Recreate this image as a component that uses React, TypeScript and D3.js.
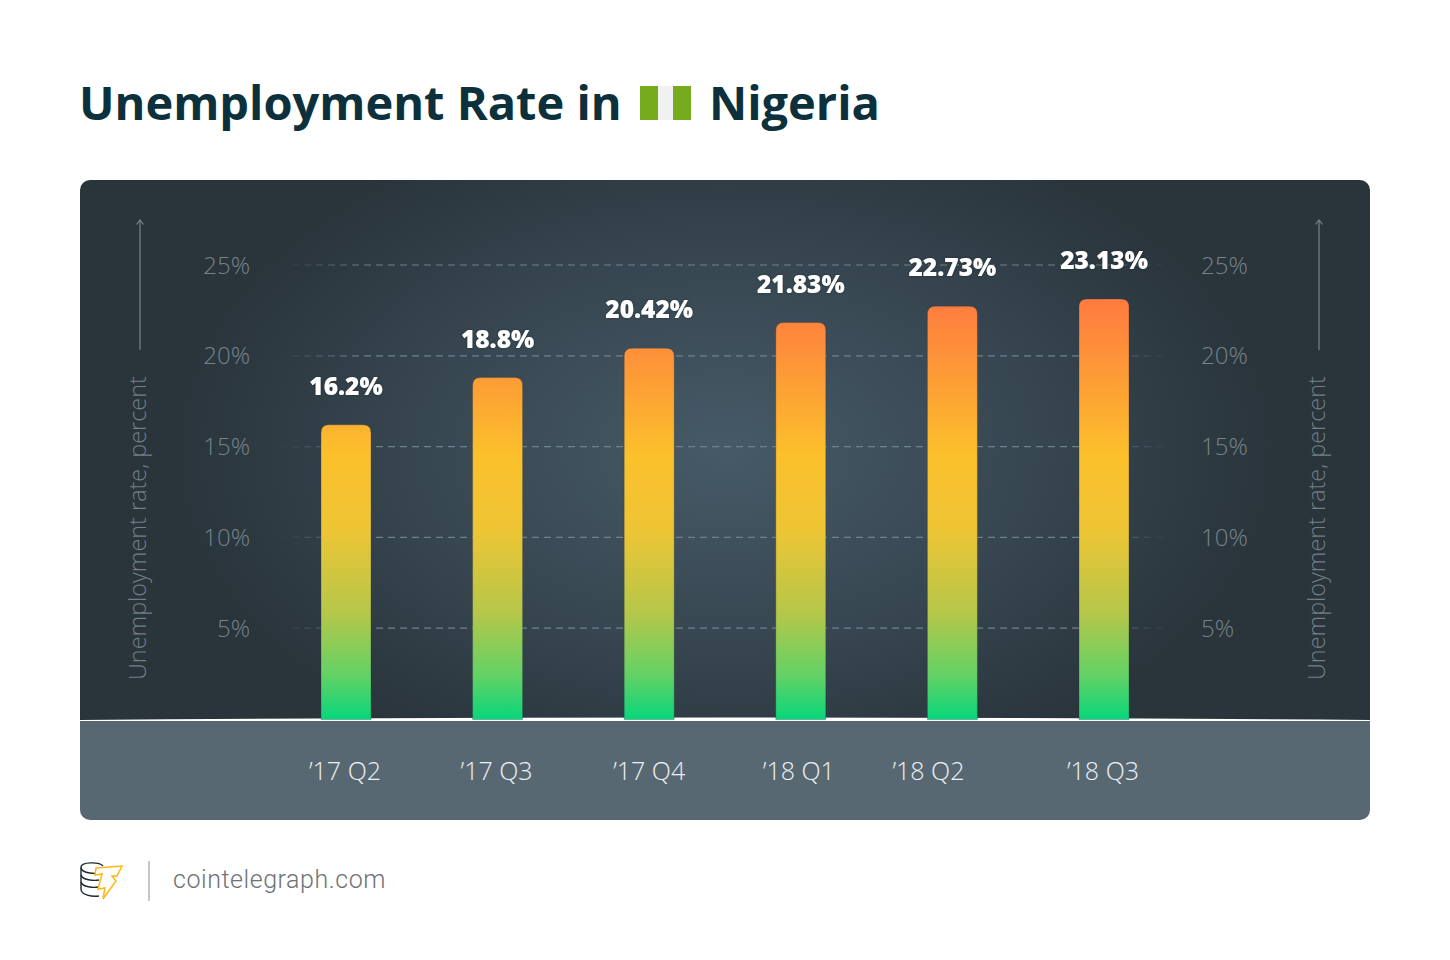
import React from "react";
import * as d3 from "d3";

const quarters = ["’17 Q2", "’17 Q3", "’17 Q4", "’18 Q1", "’18 Q2", "’18 Q3"];
const rates = [16.2, 18.8, 20.42, 21.83, 22.73, 23.13];
const rateLabels = ["16.2%", "18.8%", "20.42%", "21.83%", "22.73%", "23.13%"];
const yTicks = [5, 10, 15, 20, 25];
const quarterLabelShift = [-1, -1, 0, -2, -24, -1];

const x = d3.scalePoint<string>().domain(quarters).range([346, 1104]);
const y = d3.scaleLinear().domain([0, 25]).range([719, 265]);
const BAR_W = 50;
const LIGHT = "'Open Sans', sans-serif";

function topRoundedBar(cx: number, top: number, bottom: number, w: number, r: number) {
  const p = d3.path();
  const l = cx - w / 2, rt = cx + w / 2;
  p.moveTo(l, bottom);
  p.lineTo(l, top + r);
  p.quadraticCurveTo(l, top, l + r, top);
  p.lineTo(rt - r, top);
  p.quadraticCurveTo(rt, top, rt, top + r);
  p.lineTo(rt, bottom);
  p.closePath();
  return p.toString();
}

function AxisTitle({ ax }: { ax: number }) {
  return (
    <g>
      <line x1={ax} x2={ax} y1={350} y2={220} stroke="#77848c" strokeWidth={1.2} />
      <path d={`M${ax - 3.5},224.5 L${ax},220 L${ax + 3.5},224.5`} fill="none" stroke="#77848c" strokeWidth={1.2} />
      <text
        transform={`translate(${ax + 6},680) rotate(-90)`}
        fontFamily={LIGHT}
        fontWeight={300}
        fontSize={23.4}
        fill="#727f87"
      >
        Unemployment rate, percent
      </text>
    </g>
  );
}

export default function App() {
  return (
    <svg
      width={1450}
      height={960}
      viewBox="0 0 1450 960"
      style={{ position: "absolute", left: 0, top: 0, display: "block", background: "#fff" }}
    >
      <defs>
        <radialGradient id="bg" gradientUnits="userSpaceOnUse" cx={725} cy={450} r={560} gradientTransform="translate(725 450) scale(1 0.62) translate(-725 -450)">
          <stop offset="0" stopColor="#465a67" />
          <stop offset="0.45" stopColor="#3a4a55" />
          <stop offset="1" stopColor="#29343b" />
        </radialGradient>
        <linearGradient id="barFill" gradientUnits="userSpaceOnUse" x1={0} x2={0} y1={300} y2={719}>
          <stop offset="0" stopColor="#ff7a40" />
          <stop offset="0.2" stopColor="#fd9f35" />
          <stop offset="0.37" stopColor="#fcc02c" />
          <stop offset="0.55" stopColor="#eec535" />
          <stop offset="0.75" stopColor="#b4c74a" />
          <stop offset="0.9" stopColor="#60d266" />
          <stop offset="1" stopColor="#08d67a" />
        </linearGradient>
        <linearGradient id="gridFade" gradientUnits="userSpaceOnUse" x1={280} x2={1170} y1={0} y2={0}>
          <stop offset="0" stopColor="#6d818d" stopOpacity={0} />
          <stop offset="0.1" stopColor="#6d818d" />
          <stop offset="0.9" stopColor="#6d818d" />
          <stop offset="1" stopColor="#6d818d" stopOpacity={0} />
        </linearGradient>
        <filter id="lblShadow" x="-20%" y="-40%" width="140%" height="180%">
          <feDropShadow dx={0} dy={0} stdDeviation={1.2} floodColor="#1f2a30" floodOpacity={0.8} />
        </filter>
        <clipPath id="card">
          <rect x={80} y={180} width={1290} height={640} rx={10} />
        </clipPath>
      </defs>

      <text x={79} y={120} fontFamily="'Open Sans', sans-serif" fontWeight={700} fontSize={47} fill="#0d303d">
        Unemployment Rate in
      </text>
      <rect x={640} y={86} width={18} height={34} fill="#76ab1d" />
      <rect x={658} y={86} width={15} height={34} fill="#f1f1f1" />
      <rect x={673} y={86} width={18} height={34} fill="#76ab1d" />
      <text x={709} y={120} fontFamily="'Open Sans', sans-serif" fontWeight={700} fontSize={47} fill="#0d303d">
        Nigeria
      </text>

      <g clipPath="url(#card)">
        <rect x={80} y={180} width={1290} height={540} fill="url(#bg)" />
        <rect x={80} y={720} width={1290} height={100} fill="#586873" />
        <path d="M80,720 Q400,717.6 725,717.6 Q1050,717.6 1370,720 L1370,721 L80,721 Z" fill="#ffffff" />
      </g>

      {yTicks.map((t) => (
        <line key={t} x1={280} x2={1170} y1={y(t)} y2={y(t)} stroke="url(#gridFade)" strokeWidth={1.2} strokeDasharray="7 5" />
      ))}

      {yTicks.map((t) => (
        <g key={t} fontFamily={LIGHT} fontWeight={300} fontSize={24} fill="#76838b">
          <text x={250} y={y(t) + 8.5} textAnchor="end">{t}%</text>
          <text x={1201} y={y(t) + 8.5}>{t}%</text>
        </g>
      ))}

      <AxisTitle ax={140} />
      <AxisTitle ax={1319} />

      {quarters.map((q, i) => (
        <path
          key={q}
          d={topRoundedBar(x(q)!, y(rates[i]), 719.5, BAR_W, 8)}
          fill="url(#barFill)"
          stroke="#2c3a43"
          strokeOpacity={0.5}
          strokeWidth={0.6}
        />
      ))}

      {quarters.map((q, i) => (
        <text
          key={q}
          x={x(q)!}
          y={y(rates[i]) - 30}
          textAnchor="middle"
          fontFamily="'Open Sans', sans-serif"
          fontWeight={800}
          fontSize={24.5}
          fill="#ffffff"
          filter="url(#lblShadow)"
        >
          {rateLabels[i]}
        </text>
      ))}

      {quarters.map((q, i) => (
        <text
          key={q}
          x={x(q)! + quarterLabelShift[i]}
          y={780}
          textAnchor="middle"
          fontFamily={LIGHT}
          fontWeight={300}
          fontSize={25}
          fill="#eef1f3"
        >
          {q}
        </text>
      ))}

      <g fill="none" stroke="#1b2b33" strokeWidth={1.4}>
        <path d="M103,866 C100,862 80,861 81,868 L81,889 C81,895 92,897 99,896" />
        <path d="M81,868 C82,873 96,875 102,872" />
        <path d="M81,875 C82,880 94,881 99,880" />
        <path d="M81,882 C82,887 94,888 98,887" />
      </g>
      <path
        d="M96,868 L122,866 L117,876 L112,876 L116,881 L103,899 L105,888 L98,889 L102,874 L95,875 Z"
        fill="#ffffff"
        stroke="#fdb813"
        strokeWidth={1.5}
        strokeLinejoin="miter"
      />
      <line x1={149} x2={149} y1={861} y2={901} stroke="#a9a9a9" strokeWidth={1.3} />
      <text x={173} y={888} fontFamily="Roboto, sans-serif" fontWeight={300} fontSize={25} letterSpacing={0.55} fill="#6e7275">
        cointelegraph.com
      </text>
    </svg>
  );
}
